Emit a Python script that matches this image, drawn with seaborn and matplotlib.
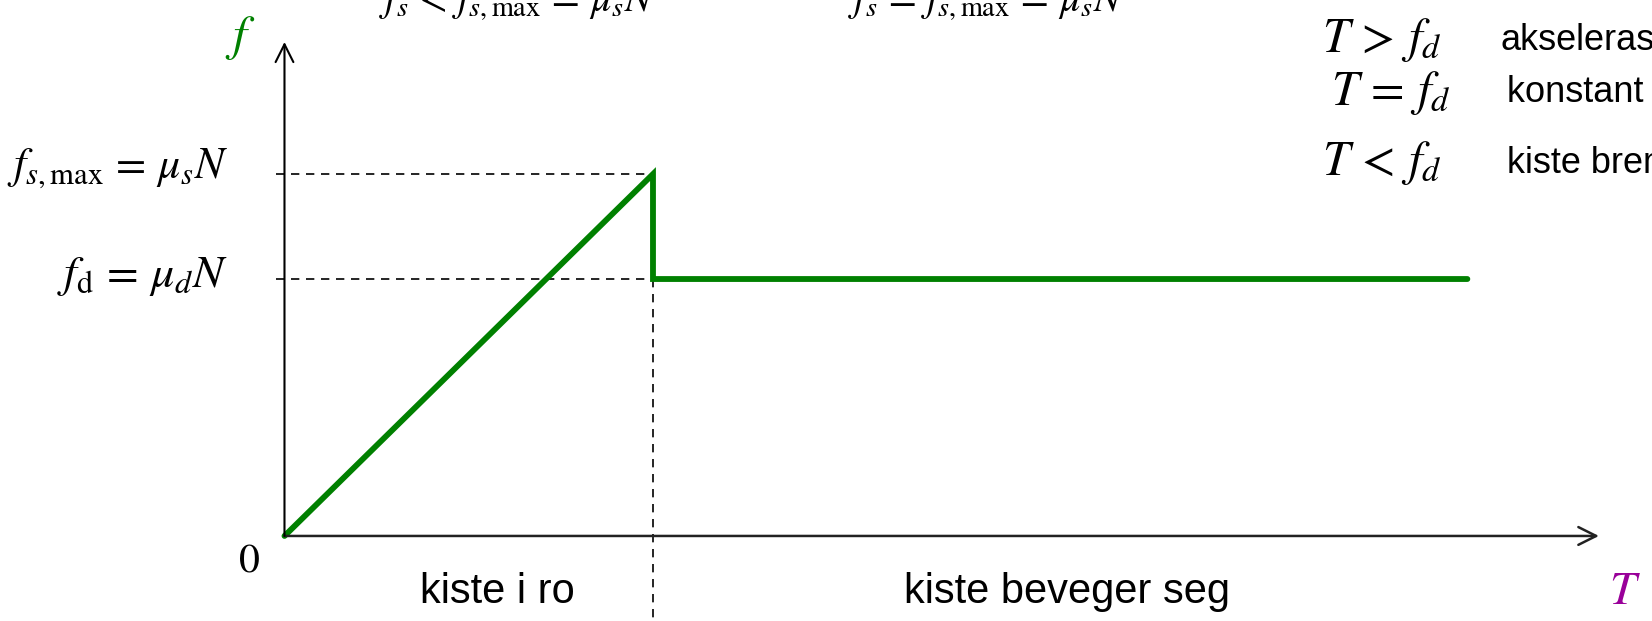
import matplotlib
matplotlib.use("Agg")
import matplotlib.pyplot as plt
import seaborn as sns

# Friction force f versus applied pull T
T_vals = [0.0, 1.0, 1.0, 3.21]
f_vals = [0.0, 1.0, 0.71, 0.71]
fs_max = 1.0
f_d = 0.71
T_slip = 1.0

region_labels = ["kiste i ro", "kiste beveger seg"]
cases = [r"$T\,>\,f_d$", r"$T\,=\,f_d$", r"$T\,<\,f_d$"]
case_texts = ["akselerasjon", "konstant fart", "kiste bremser"]

sns.set_theme(style="white")
plt.rcParams["font.family"] = ["Liberation Sans", "DejaVu Sans"]
plt.rcParams["mathtext.fontset"] = "stix"
plt.rcParams["text.color"] = "black"

W, H = 1652, 621
fig = plt.figure(figsize=(W / 100, H / 100), dpi=100)
ax = fig.add_axes([0, 0, 1, 1])
ax.set_xlim(-0.772, 3.711)
ax.set_ylim(-0.235, 1.481)
ax.axis("off")


def px(x, y):
    return x / W, 1 - y / H


GREEN = "#008000"
PURPLE = "#990099"

# axes with open arrow heads
ax.annotate("", xy=(3.567, 0), xytext=(0, 0),
            arrowprops=dict(arrowstyle="->", lw=1.8, color="#222222",
                            mutation_scale=32, shrinkA=0, shrinkB=0))
ax.annotate("", xy=(0, 1.365), xytext=(0, 0),
            arrowprops=dict(arrowstyle="->", lw=1.5, color="black",
                            mutation_scale=32, shrinkA=0, shrinkB=0))

# guide lines
dash = dict(color="black", lw=1.2, ls=(0, (5, 4)))
ax.plot([-0.023, T_slip], [fs_max, fs_max], **dash)
ax.plot([-0.023, T_slip], [f_d, f_d], **dash)
ax.plot([T_slip, T_slip], [f_d, -0.3], **dash)

# friction curve
sns.lineplot(x=T_vals, y=f_vals, sort=False, estimator=None, ax=ax,
             color=GREEN, lw=4.2, solid_joinstyle="miter")

# axis labels
fig.text(*px(240, 38), r"$f$", color=GREEN, fontsize=36, ha="center", va="center")
fig.text(*px(1625, 592), r"$T$", color=PURPLE, fontsize=34, ha="center", va="center")
fig.text(*px(249, 561), r"$0$", fontsize=30, ha="center", va="center")

fig.text(*px(228, 168), r"$f_{s,\mathrm{max}}\,=\,\mu_s N$", fontsize=31.5,
         ha="right", va="center")
fig.text(*px(228, 276), r"$f_\mathrm{d}\,=\,\mu_d N$", fontsize=33,
         ha="right", va="center")

fig.text(*px(497, 592), region_labels[0], fontsize=30, ha="center", va="center")
fig.text(*px(1067, 592), region_labels[1], fontsize=30, ha="center", va="center")

# conditions above the graph
fig.text(*px(379, 12), r"$f_s\,<\,f_{s,\mathrm{max}}\,=\,\mu_s N$", fontsize=29,
         ha="left", va="baseline")
fig.text(*px(848, 12), r"$f_s\,=\,f_{s,\mathrm{max}}\,=\,\mu_s N$", fontsize=29,
         ha="left", va="baseline")

# motion cases
for (y, cx, tx), c, t in zip([(40, 1322, 1501), (93, 1331, 1507), (163, 1322, 1507)],
                             cases, case_texts):
    fig.text(*px(cx, y), c, fontsize=35, ha="left", va="center")
    fig.text(*px(tx, y), t, fontsize=26, ha="left", va="center")

fig.savefig("out.png", dpi=100)
